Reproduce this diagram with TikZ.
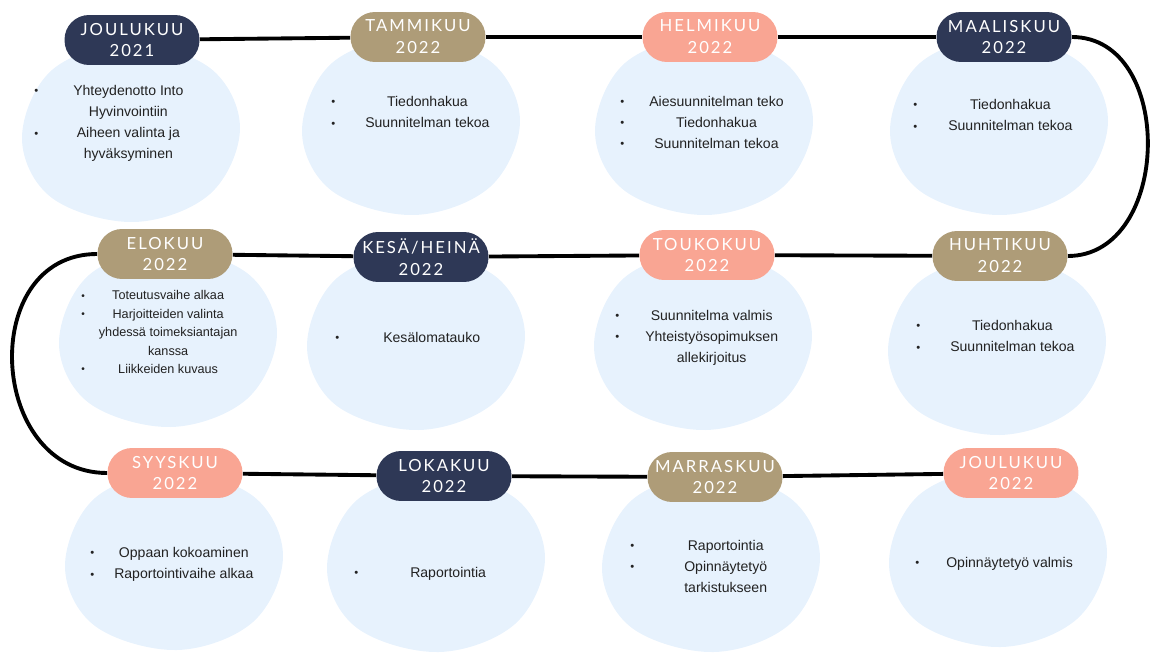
\documentclass[tikz,border=0pt]{standalone}
\usepackage{fontspec}
\setmainfont{Liberation Sans}
\newfontfamily\pillfont[LetterSpace=12]{Lato}
\usepackage{xcolor}
\usepackage{tikz}
\usetikzlibrary{positioning}

\definecolor{navy}{HTML}{2E3856}
\definecolor{sand}{HTML}{AE9C78}
\definecolor{salmon}{HTML}{F9A593}
\definecolor{cloud}{HTML}{E7F2FD}
\definecolor{ink}{HTML}{222222}

% bullet and centred task column
\newcommand\bul{\raisebox{0.1ex}{\scalebox{0.8}{\textbullet}}}
\newcommand\tasklist[2]{\begin{tabular}{@{}l@{\hspace{#1}}c@{}}#2\end{tabular}}
% light blue blob behind each month
\newcommand\blobat[2]{%
  \fill[cloud,shift={(#1,#2)}] plot[smooth cycle,tension=0.6] coordinates
    {(110,-4) (80,-64) (0,-88) (-78,-62) (-108,6) (-78,66) (4,90) (80,62)};}

\begin{document}
\begin{tikzpicture}[x=0.02cm,y=-0.02cm,
  month/.style={rounded corners=14pt,minimum width=2.7cm,minimum height=1cm,align=center,
    text=white,inner sep=2pt,font=\pillfont\fontsize{9.5}{12.5}\selectfont},
  navymonth/.style={month,fill=navy},
  sandmonth/.style={month,fill=sand},
  salmonmonth/.style={month,fill=salmon},
  tasks/.style={anchor=west,inner sep=0pt,text=ink,font=\fontsize{8}{12}\selectfont},
  link/.style={line width=2.2pt}
]
\useasboundingbox (0,0) rectangle (1150,655);

% blobs
\blobat{130}{132}
\blobat{410}{125}
\blobat{703}{125}
\blobat{998}{125}
\blobat{167}{337}
\blobat{415}{340}
\blobat{702}{340}
\blobat{996}{345}
\blobat{173}{560}
\blobat{435}{562}
\blobat{710}{562}
\blobat{997}{557}

% months
\node[navymonth] (jou21) at (132,40) {JOULUKUU\\2021};
\node[sandmonth] (tam22) at (418,37) {TAMMIKUU\\2022};
\node[salmonmonth] (hel22) at (710,37) {HELMIKUU\\2022};
\node[navymonth] (maa22) at (1004,37) {MAALISKUU\\2022};

\node[sandmonth] (elo22) at (165,254) {ELOKUU\\2022};
\node[navymonth] (kes22) at (421,257) {KESÄ/HEINÄ\\2022};
\node[salmonmonth] (tou22) at (707,255) {TOUKOKUU\\2022};
\node[sandmonth] (huh22) at (1000,256) {HUHTIKUU\\2022};

\node[salmonmonth] (syy22) at (175,473) {SYYSKUU\\2022};
\node[navymonth] (lok22) at (444,476) {LOKAKUU\\2022};
\node[sandmonth] (mar22) at (715,477) {MARRASKUU\\2022};
\node[salmonmonth] (jou22) at (1011,473) {JOULUKUU\\2022};

% tasks
\node[tasks] (t-jou21) at (34,123) {\tasklist{0.7cm}{\bul & Yhteydenotto Into\\ & Hyvinvointiin\\ \bul & Aiheen valinta ja\\ & hyväksyminen}};
\node[tasks] (t-tam22) at (331,113) {\tasklist{0.6cm}{\bul & Tiedonhakua\\ \bul & Suunnitelman tekoa}};
\node[tasks] (t-hel22) at (620,123) {\tasklist{0.5cm}{\bul & Aiesuunnitelman teko\\ \bul & Tiedonhakua\\ \bul & Suunnitelman tekoa}};
\node[tasks] (t-maa22) at (913,116) {\tasklist{0.62cm}{\bul & Tiedonhakua\\ \bul & Suunnitelman tekoa}};

\node[tasks,font=\fontsize{7.2}{10.5}\selectfont] (t-elo22) at (81,333) {\tasklist{0.28cm}{\bul & Toteutusvaihe alkaa\\ \bul & Harjoitteiden valinta\\ & yhdessä toimeksiantajan\\ & kanssa\\ \bul & Liikkeiden kuvaus}};
\node[tasks] (t-kes22) at (335,338) {\tasklist{0.88cm}{\bul & Kesälomatauko}};
\node[tasks] (t-tou22) at (615,337) {\tasklist{0.52cm}{\bul & Suunnitelma valmis\\ \bul & Yhteistyösopimuksen\\ & allekirjoitus}};
\node[tasks] (t-huh22) at (916,337) {\tasklist{0.6cm}{\bul & Tiedonhakua\\ \bul & Suunnitelman tekoa}};

\node[tasks] (t-syy22) at (90,564) {\tasklist{0.4cm}{\bul & Oppaan kokoaminen\\ \bul & Raportointivaihe alkaa}};
\node[tasks] (t-lok22) at (354,573) {\tasklist{1.04cm}{\bul & Raportointia}};
\node[tasks] (t-mar22) at (630,567) {\tasklist{1.0cm}{\bul & Raportointia\\ \bul & Opinnäytetyö\\ & tarkistukseen}};
\node[tasks] (t-jou22) at (915,563) {\tasklist{0.54cm}{\bul & Opinnäytetyö valmis}};

% timeline
\draw[link] (jou21) -- (tam22);
\draw[link] (tam22) -- (hel22);
\draw[link] (hel22) -- (maa22);
\draw[link] (maa22.east) .. controls +(104,0) and +(104,0) .. (huh22.east);
\draw[link] (huh22) -- (tou22);
\draw[link] (tou22) -- (kes22);
\draw[link] (kes22) -- (elo22);
\draw[link] (elo22.west) .. controls +(-120,0) and +(-120,0) .. (syy22.west);
\draw[link] (syy22) -- (lok22);
\draw[link] (lok22) -- (mar22);
\draw[link] (mar22) -- (jou22);
\end{tikzpicture}
\end{document}
